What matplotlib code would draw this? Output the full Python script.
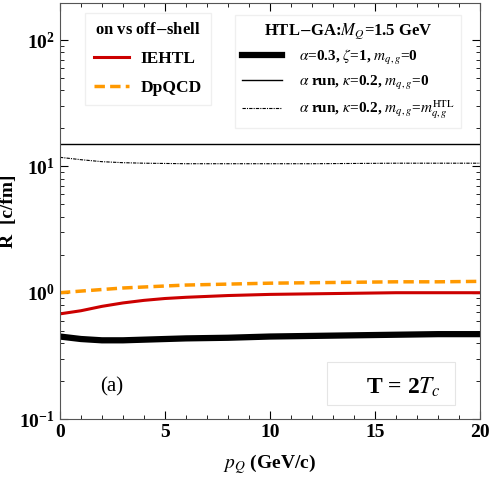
import numpy as np
import matplotlib.pyplot as plt
from matplotlib.lines import Line2D
from matplotlib.patches import Rectangle

plt.rcParams['font.family'] = ['Liberation Serif', 'DejaVu Serif']
plt.rcParams['mathtext.fontset'] = 'stix'

# data
p = [0, 1, 2, 3, 4, 5, 6, 8, 10, 12, 14, 16, 18, 20]
ie_htl = [0.68, 0.72, 0.78, 0.83, 0.87, 0.90, 0.92, 0.95, 0.97, 0.98, 0.99, 1.00, 1.00, 1.00]
dpqcd = [1.00, 1.03, 1.06, 1.09, 1.11, 1.13, 1.15, 1.17, 1.19, 1.20, 1.21, 1.22, 1.22, 1.23]
htl_const = [0.45, 0.43, 0.42, 0.42, 0.425, 0.43, 0.435, 0.44, 0.45, 0.455, 0.46, 0.465, 0.47, 0.47]
htl_run = [15.0, 15.0, 15.0, 15.0, 15.0, 15.0, 15.0, 15.0, 15.0, 15.0, 15.0, 15.0, 15.0, 15.0]
htl_run_m = [11.8, 11.3, 10.9, 10.7, 10.6, 10.55, 10.5, 10.5, 10.5, 10.5, 10.55, 10.6, 10.6, 10.6]

fig = plt.figure(figsize=(4.91, 4.8), dpi=100)
ax = fig.add_axes([0.122, 0.127, 0.856, 0.867])

ax.plot(p, htl_const, color='black', lw=4.5, solid_capstyle='butt')
ax.plot(p, htl_run, color='black', lw=1.0)
ax.plot(p, htl_run_m, color='black', lw=0.8, ls=(0, (3, 1, 1, 1)))
ax.plot(p, ie_htl, color='#cc0000', lw=2.2)
ax.plot(p, dpqcd, color='#ff9900', lw=2.5, ls=(0, (3, 1.5)))

ax.set_yscale('log')
ax.set_xlim(0, 20)
ax.set_ylim(0.1, 197)
ax.set_xticks([0, 5, 10, 15, 20])
ax.set_xticks(np.arange(0, 21, 1), minor=True)
ax.tick_params(which='both', direction='in', top=True, right=True)
ax.tick_params(which='major', length=6, width=0.8, labelsize=14)
ax.tick_params(which='minor', length=3, width=0.6)
for lab in ax.get_xticklabels() + ax.get_yticklabels():
    lab.set_fontweight('bold')
for s in ax.spines.values():
    s.set_color('#555555')

ax.set_xlabel(r'$\boldsymbol{p_Q}$ (GeV/c)', fontsize=14, fontweight='bold', labelpad=8)
ax.set_ylabel('R  [c/fm]', fontsize=14, fontweight='bold', labelpad=2)

h1 = [Line2D([], [], color='#cc0000', lw=2.2),
      Line2D([], [], color='#ff9900', lw=2.5, ls=(0, (3, 1.5)))]
leg1 = ax.legend(h1, ['IEHTL', 'DpQCD'], title='on vs off$-$shell',
                 loc='upper left', bbox_to_anchor=(0.06, 0.975), frameon=True,
                 fancybox=False, edgecolor='#ececec', handlelength=2.0,
                 labelspacing=0.75, borderpad=0.5, borderaxespad=0.0,
                 handletextpad=0.7,
                 prop={'weight': 'bold', 'size': 12.5})
leg1.get_title().set_fontweight('bold')
leg1.get_title().set_fontsize(12)
ax.add_artist(leg1)

h2 = [Line2D([], [], color='black', lw=4.5),
      Line2D([], [], color='black', lw=1.0),
      Line2D([], [], color='black', lw=0.8, ls=(0, (3, 1, 1, 1)))]
lab2 = [r'$\alpha$=0.3, $\zeta$=1, $m_{q,g}$=0',
        r'$\alpha$ run, $\kappa$=0.2, $m_{q,g}$=0',
        r'$\alpha$ run, $\kappa$=0.2, $m_{q,g}$=$m_{q,g}^{\rm HTL}$']
leg2 = ax.legend(h2, lab2, title=r'HTL$-$GA:$M_Q$=1.5 GeV',
                 loc='upper right', bbox_to_anchor=(0.955, 0.972), frameon=True,
                 fancybox=False, edgecolor='#ececec', handlelength=2.6,
                 labelspacing=0.45, borderpad=0.45, borderaxespad=0.0,
                 handletextpad=1.1,
                 prop={'weight': 'bold', 'size': 11})
leg2.get_title().set_fontweight('bold')
leg2.get_title().set_fontsize(12)

ax.text(0.095, 0.077, '(a)', transform=ax.transAxes, fontsize=15, ha='left', va='center')
ax.add_patch(Rectangle((0.636, 0.034), 0.304, 0.103, transform=ax.transAxes,
                       fill=False, edgecolor='#e5e5e5', lw=0.8))
ax.text(0.817, 0.077, r'T = 2$\boldsymbol{T_c}$', transform=ax.transAxes, fontsize=17,
        fontweight='bold', ha='center', va='center')

fig.savefig('out.png', dpi=100)
